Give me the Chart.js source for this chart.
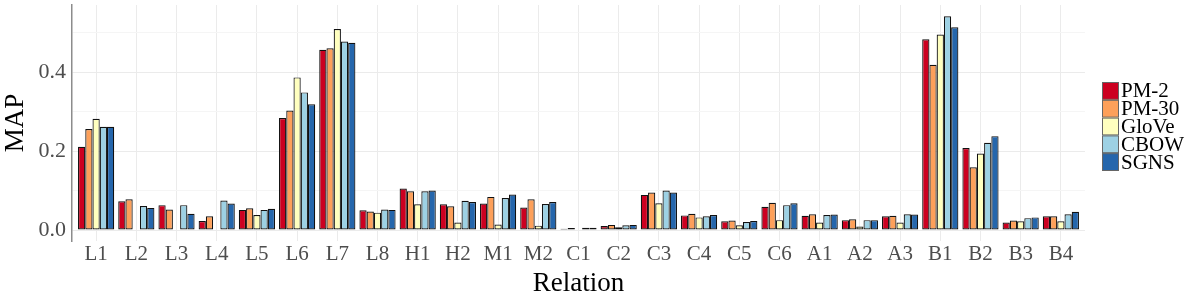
<!DOCTYPE html>
<html>
<head>
<meta charset="utf-8">
<script src="https://cdn.jsdelivr.net/npm/chart.js@4"></script>
<style>
  html, body { margin: 0; padding: 0; background: #fff; }
  #wrap { width: 1200px; height: 300px; }
</style>
</head>
<body>
<div id="wrap"><canvas id="c" width="1200" height="300"></canvas></div>
<script>
var relations = ['L1','L2','L3','L4','L5','L6','L7','L8','H1','H2','M1','M2',
  'C1','C2','C3','C4','C5','C6','A1','A2','A3','B1','B2','B3','B4'];

var pm2   = [0.211,0.073,0.063,0.023,0.051,0.284,0.457,0.050,0.105,0.065,0.067,0.057,0.003,0.010,0.089,0.037,0.022,0.059,0.036,0.025,0.035,0.484,0.208,0.019,0.035];
var pm30  = [0.256,0.078,0.052,0.035,0.055,0.303,0.461,0.047,0.098,0.060,0.084,0.078,0.005,0.013,0.095,0.041,0.024,0.069,0.040,0.027,0.036,0.419,0.159,0.024,0.035];
var glove = [0.282,0,0,0,0.038,0.387,0.510,0.044,0.065,0.019,0.014,0.011,0.001,0.007,0.068,0.032,0.012,0.025,0.019,0.009,0.019,0.496,0.194,0.022,0.022];
var cbow  = [0.262,0.061,0.063,0.075,0.051,0.349,0.478,0.052,0.098,0.074,0.081,0.066,0.006,0.012,0.100,0.035,0.020,0.063,0.038,0.025,0.040,0.542,0.221,0.030,0.040];
var sgns  = [0.262,0.056,0.041,0.067,0.054,0.319,0.475,0.051,0.100,0.071,0.090,0.071,0.006,0.013,0.095,0.038,0.023,0.068,0.039,0.025,0.039,0.514,0.238,0.032,0.046];

var seriesNames = ['PM-2','PM-30','GloVe','CBOW','SGNS'];
var yTicks = [0, 0.1, 0.2, 0.3, 0.4, 0.5];
var yLabelled = [0, 0.2, 0.4];

var colors = {
  red: '#CC0020',
  orange: '#FDA05A',
  yellow: '#FFFFBF',
  lightblue: '#9DD1E4',
  blue: '#2566AC'
};

var FONT = "'Liberation Serif', 'Times New Roman', serif";

function makeSet(name, color, vals) {
  return {
    label: name,
    data: vals,
    backgroundColor: color,
    borderColor: '#111',
    borderWidth: 1.2,
    borderSkipped: false,
    categoryPercentage: 0.9,
    barPercentage: 1.0
  };
}

// legend drawn like the ggplot key: square swatches stacked with no gap
var keyLegend = {
  id: 'keyLegend',
  afterDraw: function(chart) {
    var ctx = chart.ctx;
    var x = 1102, y0 = 82, w = 17, h = 17.8;
    ctx.save();
    chart.data.datasets.forEach(function(ds, i) {
      var y = y0 + i * h;
      ctx.fillStyle = ds.backgroundColor;
      ctx.fillRect(x, y, w, h);
      ctx.strokeStyle = '#666';
      ctx.lineWidth = 1;
      ctx.strokeRect(x + 0.5, y + 0.5, w - 1, h - 1);
      ctx.fillStyle = '#000';
      ctx.font = '21px ' + FONT;
      ctx.textBaseline = 'middle';
      ctx.textAlign = 'left';
      ctx.fillText(ds.label, x + w + 2, y + h / 2 + 1);
    });
    ctx.restore();
  }
};

var ctx = document.getElementById('c').getContext('2d');
new Chart(ctx, {
  type: 'bar',
  data: {
    labels: relations,
    datasets: [
      makeSet(seriesNames[0], colors.red, pm2),
      makeSet(seriesNames[1], colors.orange, pm30),
      makeSet(seriesNames[2], colors.yellow, glove),
      makeSet(seriesNames[3], colors.lightblue, cbow),
      makeSet(seriesNames[4], colors.blue, sgns)
    ]
  },
  options: {
    responsive: false,
    animation: false,
    layout: { padding: { left: 0, right: 115, top: 5, bottom: 0 } },
    plugins: {
      legend: { display: false },
      tooltip: { enabled: false }
    },
    scales: {
      x: {
        offset: true,
        afterBuildTicks: function(axis) {
          // ggplot style discrete expansion (0.6 of a category each side)
          axis._startValue = -0.6;
          axis._valueRange = relations.length + 0.2;
        },
        afterFit: function(axis) {
          axis.height = 59;
          axis.paddingLeft = 0;
          axis.paddingRight = 0;
        },
        grid: { offset: false, color: '#EBEBEB', lineWidth: 1, drawTicks: false },
        border: { display: false },
        ticks: {
          color: '#4D4D4D',
          font: { family: FONT, size: 21 },
          padding: 1,
          autoSkip: false,
          maxRotation: 0
        },
        title: {
          display: true,
          text: 'Relation',
          color: '#000',
          font: { family: FONT, size: 27 },
          padding: { top: 0, bottom: 0 }
        }
      },
      y: {
        min: -0.0279,
        max: 0.5707,
        afterBuildTicks: function(axis) {
          axis.ticks = yTicks.map(function(v) { return { value: v }; });
        },
        afterFit: function(axis) {
          axis.width = 72;
          axis.paddingTop = 0;
          axis.paddingBottom = 0;
        },
        grid: {
          drawTicks: false,
          color: function(c) {
            var v = c.tick ? c.tick.value : 0;
            return yLabelled.indexOf(v) >= 0 ? '#EBEBEB' : '#F5F5F5';
          },
          lineWidth: 1
        },
        border: { display: true, color: '#8C8C8C', width: 1.5 },
        ticks: {
          color: '#4D4D4D',
          font: { family: FONT, size: 22 },
          padding: 6,
          callback: function(v) {
            return yLabelled.indexOf(v) >= 0 ? v.toFixed(1) : '';
          }
        },
        title: {
          display: true,
          text: 'MAP',
          color: '#000',
          font: { family: FONT, size: 27 },
          padding: { top: 0, bottom: 0 }
        }
      }
    }
  },
  plugins: [keyLegend]
});
</script>
</body>
</html>
